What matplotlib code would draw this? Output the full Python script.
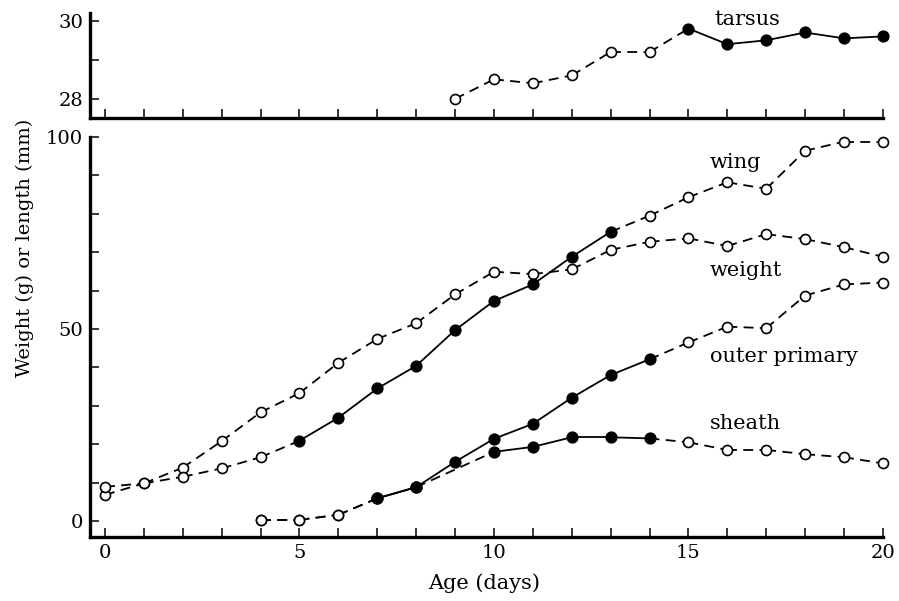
import matplotlib
matplotlib.use('Agg')
from matplotlib import pyplot as plt
from matplotlib.ticker import MultipleLocator, FixedLocator

days = list(range(21))

weight = [6.8, 9.8, 13.9, 20.8, 28.3, 33.3, 41.2, 47.4, 51.5, 59.0, 64.9,
          64.3, 65.5, 70.6, 72.7, 73.6, 71.6, 74.7, 73.4, 71.3, 68.8]
weight_filled = []

wing = [8.9, 9.8, 11.5, 13.7, 16.6, 20.9, 26.9, 34.5, 40.4, 49.7, 57.3,
        61.6, 68.8, 75.3, 79.5, 84.3, 88.2, 86.5, 96.4, 98.8, 98.8]
wing_filled = [5, 6, 7, 8, 9, 10, 11, 12, 13]

primary_days = list(range(4, 21))
primary = [0.3, 0.3, 1.6, 5.9, 8.8, 15.4, 21.4, 25.3, 32.1, 38.0, 42.1,
           46.5, 50.6, 50.2, 58.7, 61.6, 62.1]
primary_filled = [7, 8, 9, 10, 11, 12, 13, 14]

sheath_days = [4, 5, 6, 7, 8, 10, 11, 12, 13, 14, 15, 16, 17, 18, 19, 20]
sheath = [0.3, 0.3, 1.6, 5.9, 8.8, 18.0, 19.3, 21.8, 21.8, 21.5, 20.5,
          18.5, 18.5, 17.4, 16.6, 15.0]
sheath_filled = [7, 8, 10, 11, 12, 13, 14]

tarsus_days = list(range(9, 21))
tarsus = [28.0, 28.5, 28.4, 28.6, 29.2, 29.2, 29.8, 29.4, 29.5, 29.7, 29.55, 29.6]
tarsus_filled = [15, 16, 17, 18, 19, 20]

FONT = 'DejaVu Serif'
plt.rcParams['font.family'] = FONT
plt.rcParams['font.size'] = 14


def draw_series(ax, x, y, filled):
    # segments: solid between two consecutive filled days, dashed otherwise
    for i in range(len(x) - 1):
        solid = x[i] in filled and x[i + 1] in filled and x[i + 1] - x[i] == 1
        ax.plot(x[i:i + 2], y[i:i + 2], color='black', lw=1.3,
                linestyle='-' if solid else (0, (5.5, 3.5)),
                zorder=2, clip_on=False)
    for xi, yi in zip(x, y):
        ax.plot(xi, yi, 'o', ms=7.6 if xi in filled else 7.2,
                mfc='black' if xi in filled else 'white', mec='black',
                mew=1.2, zorder=3, clip_on=False)


def style_axes(ax):
    for s in ['top', 'right']:
        ax.spines[s].set_visible(False)
    for s in ['left', 'bottom']:
        ax.spines[s].set_linewidth(2.4)
    ax.tick_params(which='both', direction='in', length=6.5, width=1.1, pad=5)


fig = plt.figure(figsize=(8.99, 6.01), dpi=100)
ax_top = fig.add_axes([0.1001, 0.8037, 0.882, 0.1747])
ax = fig.add_axes([0.1001, 0.1065, 0.882, 0.6656])

# main panel
draw_series(ax, days, weight, weight_filled)
draw_series(ax, days, wing, wing_filled)
draw_series(ax, primary_days, primary, primary_filled)
draw_series(ax, sheath_days, sheath, sheath_filled)
ax.set_xlim(-0.386, 20)
ax.set_ylim(-4.17, 100)
ax.xaxis.set_major_locator(MultipleLocator(5))
ax.xaxis.set_minor_locator(MultipleLocator(1))
ax.yaxis.set_major_locator(MultipleLocator(50))
ax.yaxis.set_minor_locator(MultipleLocator(10))
style_axes(ax)

ax.text(15.55, 91.9, 'wing', fontsize=15)
ax.text(15.55, 63.8, 'weight', fontsize=15)
ax.text(15.55, 41.4, 'outer primary', fontsize=15)
ax.text(15.55, 24.0, 'sheath', fontsize=15)

# tarsus panel
draw_series(ax_top, tarsus_days, tarsus, tarsus_filled)
ax_top.set_xlim(-0.386, 20)
ax_top.set_ylim(27.51, 30.2)
ax_top.xaxis.set_major_locator(MultipleLocator(1))
ax_top.set_xticklabels([])
ax_top.yaxis.set_major_locator(FixedLocator([28, 30]))
ax_top.yaxis.set_minor_locator(FixedLocator([29]))
style_axes(ax_top)
ax_top.text(15.66, 29.9, 'tarsus', fontsize=15)

fig.text(484 / 899, 1 - 583 / 601, 'Age (days)', ha='center', va='center',
         fontsize=15)
fig.text(25 / 899, 1 - 248 / 601, 'Weight (g) or length (mm)',
         rotation=90, ha='center', va='center')

fig.savefig('out.png', dpi=100)
